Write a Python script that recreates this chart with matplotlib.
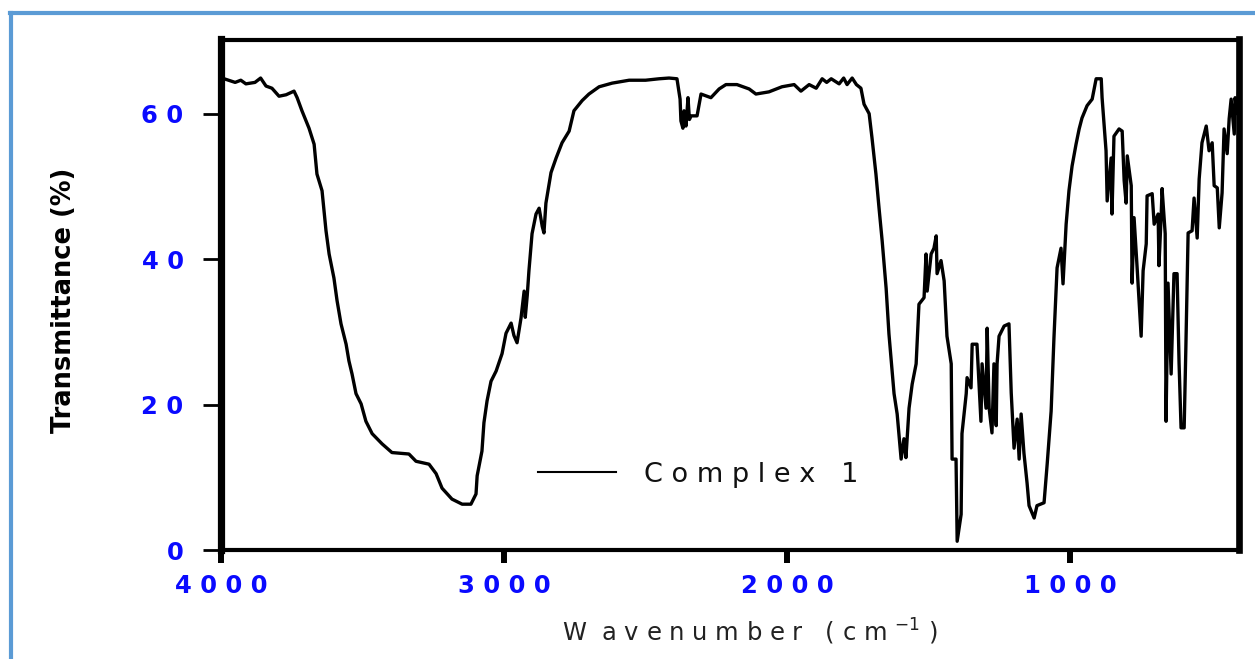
import matplotlib.pyplot as plt
from matplotlib.lines import Line2D

# FT-IR spectrum of Complex 1
wavenumber = [
    4000, 3989, 3950, 3930, 3912, 3880, 3860, 3841, 3820, 3795, 3770, 3742,
    3731, 3714, 3689, 3671, 3661, 3643, 3629, 3618, 3601, 3590, 3576, 3558,
    3548, 3537, 3523, 3505, 3488, 3466, 3431, 3396, 3336, 3311, 3265, 3240,
    3219, 3184, 3148, 3117, 3099, 3095, 3078, 3071, 3060, 3046, 3028, 3007,
    2993, 2975, 2965, 2954, 2940, 2929, 2925, 2918, 2912, 2901, 2887, 2876,
    2865, 2859, 2852, 2834, 2816, 2795, 2770, 2753, 2724, 2700, 2664, 2618,
    2558, 2500, 2452, 2417, 2389, 2378, 2375, 2368, 2364, 2357, 2350, 2345,
    2339, 2318, 2304, 2269, 2240, 2216, 2177, 2134, 2110, 2064, 2018, 1975,
    1951, 1922, 1897, 1876, 1860, 1844, 1816, 1800, 1788, 1770, 1755, 1739,
    1728, 1710, 1700, 1686, 1675, 1664, 1650, 1640, 1622, 1611, 1597, 1587,
    1580, 1569, 1558, 1544, 1534, 1516, 1509, 1505, 1491, 1481, 1473, 1470,
    1456, 1445, 1435, 1420, 1417, 1403, 1399, 1385, 1382, 1367, 1364, 1350,
    1346, 1329, 1315, 1311, 1297, 1293, 1286, 1276, 1269, 1261, 1258, 1251,
    1233, 1216, 1208, 1198, 1187, 1180, 1173, 1163, 1152, 1145, 1127, 1117,
    1092, 1081, 1067, 1057, 1046, 1032, 1025, 1014, 1004, 993, 979, 968,
    958, 940, 922, 908, 890, 887, 873, 869, 855, 852, 845, 827,
    816, 809, 802, 798, 784, 781, 774, 763, 749, 742, 731, 728,
    710, 703, 689, 686, 678, 675, 664, 661, 654, 643, 640, 633,
    622, 615, 608, 597, 591, 583, 569, 562, 551, 544, 534, 519,
    509, 498, 491, 480, 473, 463, 456, 445, 438, 431, 420, 417,
    410, 405,
]
transmittance = [
    65.0, 64.8, 64.3, 64.6, 64.1, 64.3, 64.9, 63.8, 63.5, 62.4, 62.6, 63.1,
    62.2, 60.4, 58.0, 55.8, 51.7, 49.4, 43.9, 40.7, 37.4, 34.3, 31.1, 28.3,
    26.0, 24.2, 21.5, 20.1, 17.7, 16.0, 14.6, 13.4, 13.2, 12.2, 11.8, 10.5,
    8.5, 7.0, 6.3, 6.3, 7.7, 10.2, 13.6, 17.5, 20.5, 23.2, 24.6, 27.0,
    29.8, 31.2, 29.5, 28.5, 31.9, 35.6, 32.0, 35.0, 38.4, 43.5, 46.2, 47.0,
    44.5, 43.6, 47.7, 51.9, 53.9, 56.0, 57.6, 60.4, 61.8, 62.7, 63.7, 64.2,
    64.6, 64.6, 64.8, 64.9, 64.8, 62.0, 59.0, 58.0, 60.4, 58.3, 62.2, 59.2,
    59.7, 59.7, 62.7, 62.2, 63.4, 64.0, 64.0, 63.4, 62.7, 63.0, 63.7, 64.0,
    63.1, 64.0, 63.5, 64.8, 64.3, 64.8, 64.1, 64.9, 64.0, 64.9, 64.0, 63.5,
    61.3, 60.0, 56.7, 51.7, 47.0, 42.5, 36.0, 29.7, 21.5, 18.7, 12.5, 15.3,
    12.7, 19.5, 22.8, 25.6, 33.8, 34.7, 40.7, 35.6, 40.7, 41.5, 43.2, 38.0,
    39.8, 37.0, 29.4, 25.6, 12.5, 12.5, 1.2, 4.9, 16.0, 21.5, 23.7, 22.3,
    28.3, 28.3, 17.7, 25.6, 19.5, 30.5, 19.5, 16.1, 25.6, 17.1, 25.6, 29.4,
    30.8, 31.1, 21.6, 14.0, 18.0, 12.5, 18.7, 13.3, 9.2, 6.1, 4.4, 6.1,
    6.5, 11.8, 19.1, 29.2, 38.8, 41.5, 36.6, 44.8, 49.4, 52.8, 55.8, 57.9,
    59.4, 61.1, 62.0, 64.8, 64.8, 62.2, 54.9, 48.0, 53.9, 46.2, 56.9, 57.9,
    57.6, 50.8, 47.7, 54.2, 50.1, 36.7, 45.7, 38.7, 29.4, 38.4, 42.1, 48.7,
    49.0, 44.8, 46.2, 39.1, 46.2, 49.7, 43.5, 17.7, 36.7, 24.2, 28.5, 38.0,
    38.0, 25.7, 16.8, 16.8, 27.8, 43.6, 43.9, 48.4, 42.9, 51.0, 56.0, 58.3,
    54.9, 56.0, 50.1, 49.8, 44.3, 49.1, 57.9, 54.5, 59.3, 62.0, 57.2, 62.2,
    60.0, 63.0,
]

x_ticks = [4000, 3000, 2000, 1000]
x_tick_labels = ['4000', '3000', '2000', '1000']
y_ticks = [0, 20, 40, 60]
y_tick_labels = ['0', '20', '40', '60']
series_name = 'Complex 1'


def spaced(s, gap=' '):
    return gap.join(s)


fig = plt.figure(figsize=(12.55, 6.59), dpi=100)
fig.patch.set_facecolor('white')
ax = fig.add_axes([221 / 1255, 1 - 550 / 659, 1017.5 / 1255, 510.5 / 659])

ax.plot(wavenumber, transmittance, color='black', lw=2.4,
        label=spaced('Complex') + '   1')
ax.set_xlim(4000, 405)
ax.set_ylim(0, 70.2)

ax.set_xticks(x_ticks)
ax.set_xticklabels([spaced(t) for t in x_tick_labels])
ax.set_yticks(y_ticks)
ax.set_yticklabels([spaced(t) for t in y_tick_labels])
ax.tick_params(axis='x', direction='out', length=9.5, width=4.3, pad=8,
               labelsize=17.5, labelcolor='#0a0aff')
ax.tick_params(axis='y', direction='out', length=13, width=2, pad=14,
               labelsize=17.5, labelcolor='#0a0aff')
for lab in ax.get_xticklabels() + ax.get_yticklabels():
    lab.set_fontweight('bold')

ax.spines['left'].set_linewidth(5.2)
ax.spines['right'].set_linewidth(4.8)
ax.spines['top'].set_linewidth(3)
ax.spines['bottom'].set_linewidth(3)

# legend
leg = ax.legend(loc='center left', bbox_to_anchor=(0.3115, 0.147), frameon=False,
                borderpad=0, borderaxespad=0, handlelength=2.9, handletextpad=1.0,
                fontsize=19.5)
leg.get_lines()[0].set_linewidth(1.5)
for t in leg.get_texts():
    t.set_color('#111111')

# axis titles
fig.text(750 / 1255, 1 - 632 / 659,
         'W  ' + spaced('avenumber') + '   ( c m $^{-1}$ )',
         ha='center', va='center', fontsize=17.5, color='#222222')
fig.text(64 / 1255, 1 - 300 / 659, 'Transmittance (%)', rotation=90,
         ha='center', va='center', fontsize=18.5, fontweight='bold',
         color='black')

# blue frame on the top and left
fig.add_artist(Line2D([11 / 1255, 11 / 1255], [0, 1 - 13 / 659],
                      transform=fig.transFigure, color='#5b9bd5', lw=3))
fig.add_artist(Line2D([9.5 / 1255, 1], [1 - 13 / 659, 1 - 13 / 659],
                      transform=fig.transFigure, color='#5b9bd5', lw=3))

fig.savefig('out.png', dpi=100)
